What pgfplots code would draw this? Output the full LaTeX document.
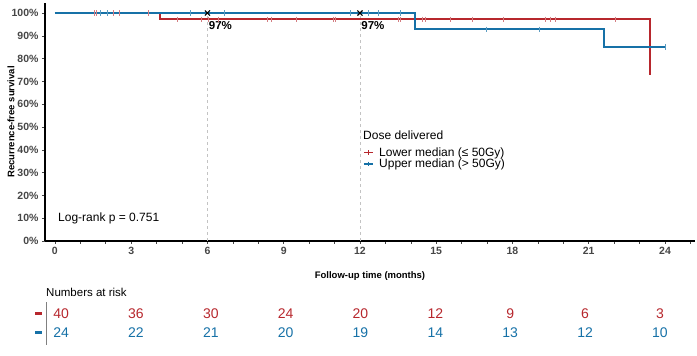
\documentclass[border=0pt]{standalone}
\usepackage{pgfplots}
\pgfplotsset{compat=1.18}
\usepackage{fontspec}
\setmainfont{Liberation Sans}
\definecolor{cred}{RGB}{183,39,45}
\definecolor{cblue}{RGB}{22,113,167}
\definecolor{tickgray}{RGB}{70,70,70}
\definecolor{dashgray}{RGB}{195,195,195}
\begin{document}
\begin{tikzpicture}[x=1pt,y=1pt]
\path[use as bounding box] (0,0) rectangle (697,356);
\begin{axis}[
  at={(45pt,115pt)}, anchor=south west,
  scale only axis, width=650pt, height=238pt,
  xmin=-0.39, xmax=25.18, ymin=0, ymax=104.4,
  axis lines=left,
  axis line style={line width=1.4pt, -},
  xtick={0,3,...,24},
  minor xtick={1,2,4,5,7,8,10,11,13,14,16,17,19,20,22,23,25},
  ytick={0,10,...,100},
  yticklabel={\pgfmathprintnumber{\tick}\%},
  tick align=outside,
  major tick length=3pt, minor tick length=3pt,
  every tick/.style={tickgray, line width=0.6pt},
  /pgf/number format/assume math mode=true,
  tick label style={font=\bfseries\fontsize{10.5}{10.5}\selectfont, text=tickgray},
  xlabel={Follow-up time (months)},
  ylabel={Recurrence-free survival},
  xlabel style={at={(axis description cs:0.5,-0.1475)}, anchor=center, font=\bfseries\fontsize{9.5}{10}\selectfont},
  ylabel style={at={(axis description cs:-0.0523,0.5)}, anchor=center, font=\bfseries\fontsize{9.5}{10}\selectfont},
  clip=false,
  legend style={at={(axis cs:12.12,41.4)}, anchor=north west, draw=none, fill=none,
    font=\fontsize{12}{12}\selectfont, inner sep=0pt, row sep=0pt,
    nodes={inner sep=0.6pt},
    /tikz/every odd column/.append style={column sep=5pt}},
  legend cell align=left,
  legend image code/.code={\draw[mark repeat=2, mark phase=2, #1] plot coordinates {(0pt,0pt) (4.5pt,0pt) (9pt,0pt)};},
]
% reference lines
\addplot[dashgray, dashed, line width=0.7pt, forget plot] coordinates {(6,0) (6,100)};
\addplot[dashgray, dashed, line width=0.7pt, forget plot] coordinates {(12,0) (12,100)};
% survival curves
\addplot[cred, line width=1.5pt, const plot, forget plot]
  coordinates {(0,100) (4.13,97.3) (23.4,73)};
\addplot[cblue, line width=1.5pt, const plot, forget plot]
  coordinates {(0,100) (14.17,92.9) (21.6,85.1) (24.03,85.1)};
\addlegendimage{cred, line width=1.4pt, mark=|, mark size=2.2pt, mark options={line width=0.8pt}}
\addlegendentry{Lower median (≤ 50Gy)}
\addlegendimage{cblue, line width=1.4pt, mark=|, mark size=2.2pt, mark options={line width=0.8pt}}
\addlegendentry{Upper median (> 50Gy)}
% censor marks
\addplot[only marks, mark=|, mark size=2.6pt, mark options={cred!60, line width=0.7pt}, forget plot]
  coordinates {(1.55,100) (1.64,100) (2.30,100) (2.52,100) (3.67,100)
  (4.83,97.3) (5.77,97.3) (6.03,97.3) (6.43,97.3) (8.35,97.3) (8.52,97.3) (9.51,97.3)
  (10.95,97.3) (11.04,97.3) (13.51,97.3) (13.60,97.3) (14.45,97.3) (14.56,97.3)
  (15.54,97.3) (16.43,97.3) (17.64,97.3) (19.28,97.3) (19.48,97.3) (19.67,97.3) (22.03,97.3)};
\addplot[only marks, mark=|, mark size=2.6pt, mark options={cblue!70, line width=0.7pt}, forget plot]
  coordinates {(1.77,100) (2.06,100) (5.31,100) (6.66,100) (11.61,100) (12.33,100) (12.72,100) (13.57,100)
  (16.96,92.9) (19.06,92.9) (24.03,85.1)};
% landmark marks
\addplot[only marks, mark=x, mark size=3.6pt, mark options={black, line width=1.1pt}, forget plot]
  coordinates {(6,100) (12,100)};
\node[anchor=west, inner sep=0pt, font=\bfseries\fontsize{11.5}{12}\selectfont] at (axis cs:6.05,94.3) {97\%};
\node[anchor=west, inner sep=0pt, font=\bfseries\fontsize{11.5}{12}\selectfont] at (axis cs:12.05,94.3) {97\%};
\node[anchor=west, inner sep=0pt, font=\fontsize{12}{12}\selectfont] at (axis cs:12.12,46.3) {Dose delivered};
\node[anchor=west, inner sep=0pt, font=\fontsize{12}{12}\selectfont] at (axis cs:0.12,10.1) {Log-rank p = 0.751};
\end{axis}
% numbers at risk
\begin{axis}[
  at={(61.1pt,0pt)}, anchor=south west,
  scale only axis, width=598.8pt, height=60pt,
  xmin=0, xmax=24, ymin=0, ymax=60,
  hide axis, clip=false,
]
\addplot[only marks, mark=none, nodes near coords, point meta=explicit symbolic,
  every node near coord/.append style={font=\fontsize{14}{14}\selectfont, text=cred, inner sep=0pt}]
  coordinates {(0,37)[40] (3,37)[36] (6,37)[30] (9,37)[24] (12,37)[20] (15,37)[12] (18,37)[9] (21,37)[6] (24,37)[3]};
\addplot[only marks, mark=none, nodes near coords, point meta=explicit symbolic,
  every node near coord/.append style={font=\fontsize{14}{14}\selectfont, text=cblue, inner sep=0pt}]
  coordinates {(0,18)[24] (3,18)[22] (6,18)[21] (9,18)[20] (12,18)[19] (15,18)[14] (18,18)[13] (21,18)[12] (24,18)[10]};
\end{axis}
\node[anchor=west, inner sep=0pt, font=\fontsize{11.5}{12}\selectfont] at (46,63.5) {Numbers at risk};
\draw[gray, line width=0.8pt] (46,11) -- (46,54);
\draw[cred, line width=3pt] (35,42) -- (42,42);
\draw[cblue, line width=3pt] (35,23) -- (42,23);
\end{tikzpicture}
\end{document}
